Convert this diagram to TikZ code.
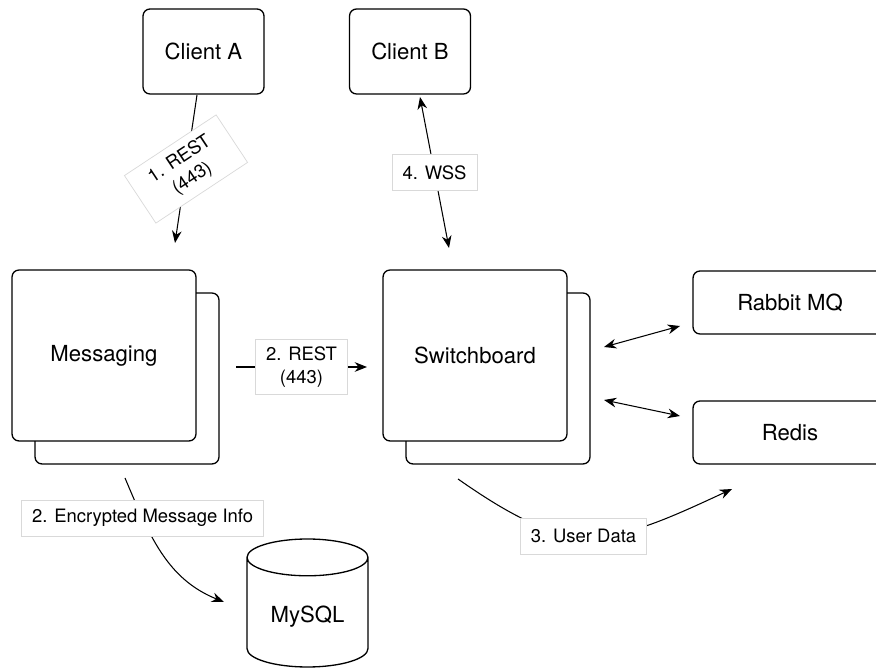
\documentclass[tikz,border=0pt]{standalone}
\usepackage{fontspec}
\setmainfont{TeX Gyre Heros}
\usetikzlibrary{positioning, arrows.meta, shapes.geometric}

\begin{document}
\begin{tikzpicture}[x=0.02cm, y=-0.02cm]
		\tikzstyle{box} = [draw, line width=0.75pt, rounded corners=4pt, fill=white, font=\fontsize{12.6}{15}\selectfont, text centered]
		\tikzstyle{client} = [box, minimum width=2.42cm, minimum height=1.7cm]
		\tikzstyle{service} = [box, minimum width=3.68cm, minimum height=3.42cm]
		\tikzstyle{store} = [box, minimum width=3.88cm, minimum height=1.26cm]
		\tikzstyle{lbl} = [fill=white, draw=black!15, line width=0.4pt, font=\fontsize{10.5}{13}\selectfont, inner xsep=6pt, inner ysep=4pt, align=center, minimum height=0.72cm]
		\tikzstyle{arr} = [-{Stealth[length=7pt,width=5.5pt]}, line width=0.6pt]
		\tikzstyle{darr} = [{Stealth[length=7pt,width=5.5pt]}-{Stealth[length=7pt,width=5.5pt]}, line width=0.6pt]
		\tikzstyle{invisible} = [outer sep=0,inner sep=0,minimum size=0]
		\useasboundingbox (0,0) rectangle (876,668);
		% boxes
		\node [client] (clientA) at (203.5,51.5) {Client A};
		\node [client] (clientB) at (410,51.5) {Client B};
		\node [service] (msgBack) at (127,378.5) {};
		\node [service] (msg) at (104,355.5) {Messaging};
		\node [service] (swBack) at (498,378.5) {};
		\node [service] (sw) at (475,355.5) {Switchboard};
		\node [store] (rabbit) at (790,302.5) {Rabbit MQ};
		\node [store] (redis) at (790,432.5) {Redis};
		\node [cylinder, shape border rotate=90, draw, line width=0.75pt, aspect=0.43, minimum width=2.42cm, minimum height=2.56cm, anchor=shape center, font=\fontsize{12.6}{15}\selectfont] (mysql) at (307.5,603) {MySQL};
		% end points
		\node [invisible] (p1) at (197,95) {};
		\node [invisible] (p2) at (175,243) {};
		\node [invisible] (p3) at (420,97) {};
		\node [invisible] (p4) at (449,248) {};
		\node [invisible] (p5) at (236,367) {};
		\node [invisible] (p6) at (367,367) {};
		\node [invisible] (p7) at (604,347) {};
		\node [invisible] (p8) at (680,326) {};
		\node [invisible] (p9) at (604,400) {};
		\node [invisible] (p10) at (680,416) {};
		\node [invisible] (p11) at (125,478) {};
		\node [invisible] (p12) at (224,602) {};
		\node [invisible] (p13) at (458,479) {};
		\node [invisible] (p14) at (732,489) {};
		% connectors
		\draw [arr] (p1) -- node [lbl, rotate=33.5, minimum width=2.2cm, minimum height=1.14cm] {1. REST\\(443)} (p2);
		\draw [darr] (p3) -- node [lbl] {4. WSS} (p4);
		\draw [arr] (p5) -- node [lbl] {2. REST\\(443)} (p6);
		\draw [darr] (p7) -- (p8);
		\draw [darr] (p9) -- (p10);
		\draw [arr] (p11) to [out=-67,in=158] node [lbl, pos=0.25] {2. Encrypted Message Info} (p12);
		\draw [arr] (p13) to [out=-35,in=205,looseness=1.3] node [lbl, pos=0.47] {3. User Data} (p14);
\end{tikzpicture}
\end{document}
